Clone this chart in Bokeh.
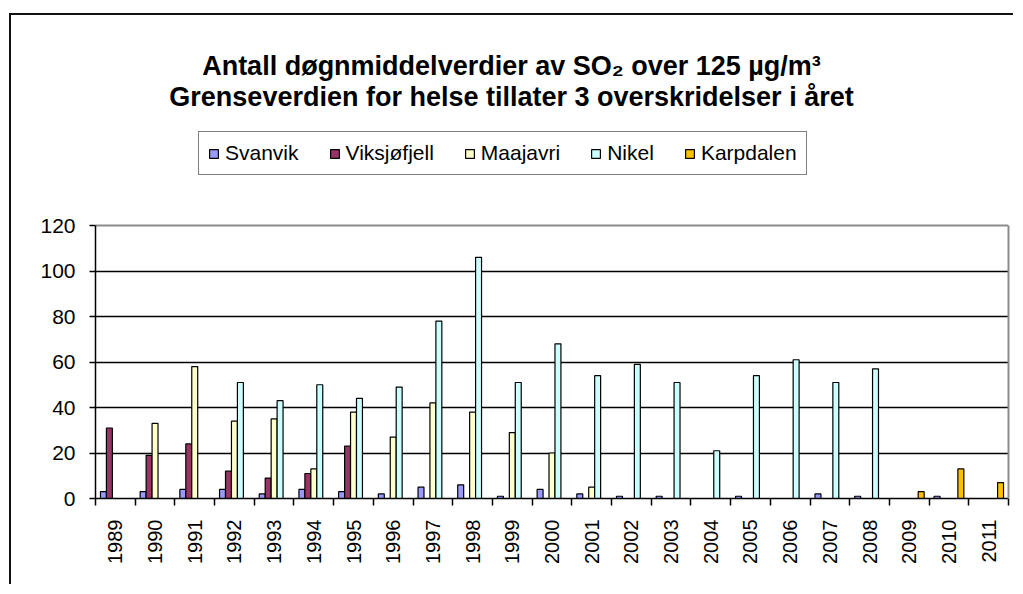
import math
import numpy as np
from bokeh.plotting import figure
from bokeh.models import (ColumnDataSource, Range1d, FixedTicker, Label, Legend,
                          LegendItem, LinearAxis, Grid)
from bokeh.embed import file_html
from bokeh.resources import INLINE

# ---------------- data ----------------
years = ["1989", "1990", "1991", "1992", "1993", "1994", "1995", "1996", "1997",
         "1998", "1999", "2000", "2001", "2002", "2003", "2004", "2005", "2006",
         "2007", "2008", "2009", "2010", "2011"]

svanvik = [3, 3, 4, 4, 2, 4, 3, 2, 5, 6, 1, 4, 2, 1, 1, None, 1, None, 2, 1, None, 1, None]
viksjofjell = [31, 19, 24, 12, 9, 11, 23, None, None, None, None, None, None, None,
               None, None, None, None, None, None, None, None, None]
maajavri = [None, 33, 58, 34, 35, 13, 38, 27, 42, 38, 29, 20, 5, None, None, None,
            None, None, None, None, None, None, None]
nikel = [None, None, None, 51, 43, 50, 44, 49, 78, 106, 51, 68, 54, 59, 51, 21, 54,
         61, 51, 57, None, None, None]
karpdalen = [None, None, None, None, None, None, None, None, None, None, None, None,
             None, None, None, None, None, None, None, None, 3, 13, 7]

series_names = ["Svanvik", "Viksjøfjell", "Maajavri", "Nikel", "Karpdalen"]
series_values = [svanvik, viksjofjell, maajavri, nikel, karpdalen]
series_colors = ["#9999FF", "#993366", "#FFFFCC", "#CCFFFF", "#FFC000"]

y_ticks = [0, 20, 40, 60, 80, 100, 120]
y_max = 120

title_line1 = "Antall døgnmiddelverdier av SO\u2082 over 125 µg/m\u00b3"
title_line2 = "Grenseverdien for helse tillater 3 overskridelser i året"

FONT = "Liberation Sans"

# ---------------- layout (pixels) ----------------
CANVAS_X0, CANVAS_Y0 = 11, 15          # after outer border
W, H = 1015 - CANVAS_X0, 586 - CANVAS_Y0
FRAME_L, FRAME_R, AXIS_TOP, FRAME_B = 95, 1008, 225, 498
frame_h = FRAME_B - CANVAS_Y0
plot_h = FRAME_B - AXIS_TOP
y_end = y_max * frame_h / plot_h

n = len(years)
p = figure(width=W, height=H, output_backend="svg", toolbar_location=None,
           x_range=Range1d(0, n), y_range=Range1d(0, y_end),
           min_border_left=FRAME_L - CANVAS_X0, min_border_right=1015 - FRAME_R,
           min_border_top=0, min_border_bottom=586 - FRAME_B)
p.title.visible = False
p.background_fill_color = "white"
p.border_fill_color = "white"
p.outline_line_color = None
p.styles = {"border-top": "2px solid #111111", "border-left": "2px solid #111111",
            "margin-left": "9px", "margin-top": "13px"}

centers = np.arange(n) + 0.5
bar_w = 0.15
offsets = (np.arange(len(series_names)) - 2) * bar_w

renderers = []
for name, vals, color, off in zip(series_names, series_values, series_colors, offsets):
    xs = [float(c + off) for c, v in zip(centers, vals) if v is not None]
    tops = [float(v) for v in vals if v is not None]
    src = ColumnDataSource(dict(x=xs, top=tops))
    r = p.vbar(x="x", top="top", bottom=0, width=bar_w, source=src,
               fill_color=color, line_color="black", line_width=1.2)
    renderers.append(r)

# x axis
p.xaxis.ticker = FixedTicker(ticks=[float(c) for c in centers],
                             minor_ticks=[float(i) for i in range(n + 1)])
p.xaxis.major_label_overrides = {float(c): y for c, y in zip(centers, years)}
p.xaxis.major_label_orientation = math.pi / 2
p.xaxis.major_tick_line_color = None
p.xaxis.major_tick_out = 0
p.xaxis.major_tick_in = 0
p.xaxis.minor_tick_out = 7
p.xaxis.minor_tick_in = 0
p.xaxis.minor_tick_line_color = "black"
p.xaxis.minor_tick_line_width = 1.5
p.xaxis.axis_line_color = "black"
p.xaxis.axis_line_width = 1.5
p.xaxis.major_label_standoff = 14
p.xaxis.major_label_text_font = FONT
p.xaxis.major_label_text_font_size = "20px"
p.xaxis.major_label_text_color = "black"

# y axis
p.yaxis.ticker = FixedTicker(ticks=y_ticks)
p.yaxis.bounds = (0, y_max)
p.yaxis.minor_tick_line_color = None
p.yaxis.major_tick_out = 6
p.yaxis.major_tick_in = 0
p.yaxis.major_tick_line_color = "black"
p.yaxis.major_tick_line_width = 1.5
p.yaxis.axis_line_color = "black"
p.yaxis.axis_line_width = 1.5
p.yaxis.major_label_standoff = 14
p.yaxis.major_label_text_font = FONT
p.yaxis.major_label_text_font_size = "21px"
p.yaxis.major_label_text_color = "black"

# right border of plot area (gray)
right_axis = LinearAxis(bounds=(0, y_max), ticker=FixedTicker(ticks=[]),
                        axis_line_color="#8c8c8c", axis_line_width=2,
                        major_tick_line_color=None, minor_tick_line_color=None,
                        major_tick_out=0, major_tick_in=0, major_label_standoff=0,
                        major_label_text_font_size="0px")
p.add_layout(right_axis, "right")

# grid
p.xgrid.visible = False
p.ygrid.ticker = FixedTicker(ticks=[t for t in y_ticks if 0 < t < y_max])
p.ygrid.grid_line_color = "black"
p.ygrid.grid_line_width = 1.5
p.add_layout(Grid(dimension=1, ticker=FixedTicker(ticks=[y_max]),
                  grid_line_color="#8c8c8c", grid_line_width=2))

# title lines
for txt, yy in ((title_line1, FRAME_B - 65), (title_line2, FRAME_B - 96)):
    p.add_layout(Label(x=511 - FRAME_L, y=yy, x_units="screen", y_units="screen",
                       text=txt, text_align="center", text_baseline="alphabetic",
                       text_font=FONT, text_font_style="bold",
                       text_font_size="27px", text_color="black"))

# legend
legend = Legend(items=[LegendItem(label=nm, renderers=[r])
                       for nm, r in zip(series_names, renderers)],
                orientation="horizontal", location=(198 - FRAME_L, FRAME_B - 175),
                margin=0, padding=9, spacing=30, label_standoff=6,
                glyph_width=11, glyph_height=11,
                label_text_font=FONT, label_text_font_size="21px",
                label_text_color="black",
                border_line_color="black", border_line_width=1.5,
                background_fill_color="white", background_fill_alpha=1)
p.add_layout(legend)

open("out.html", "w").write(file_html(p, INLINE))
